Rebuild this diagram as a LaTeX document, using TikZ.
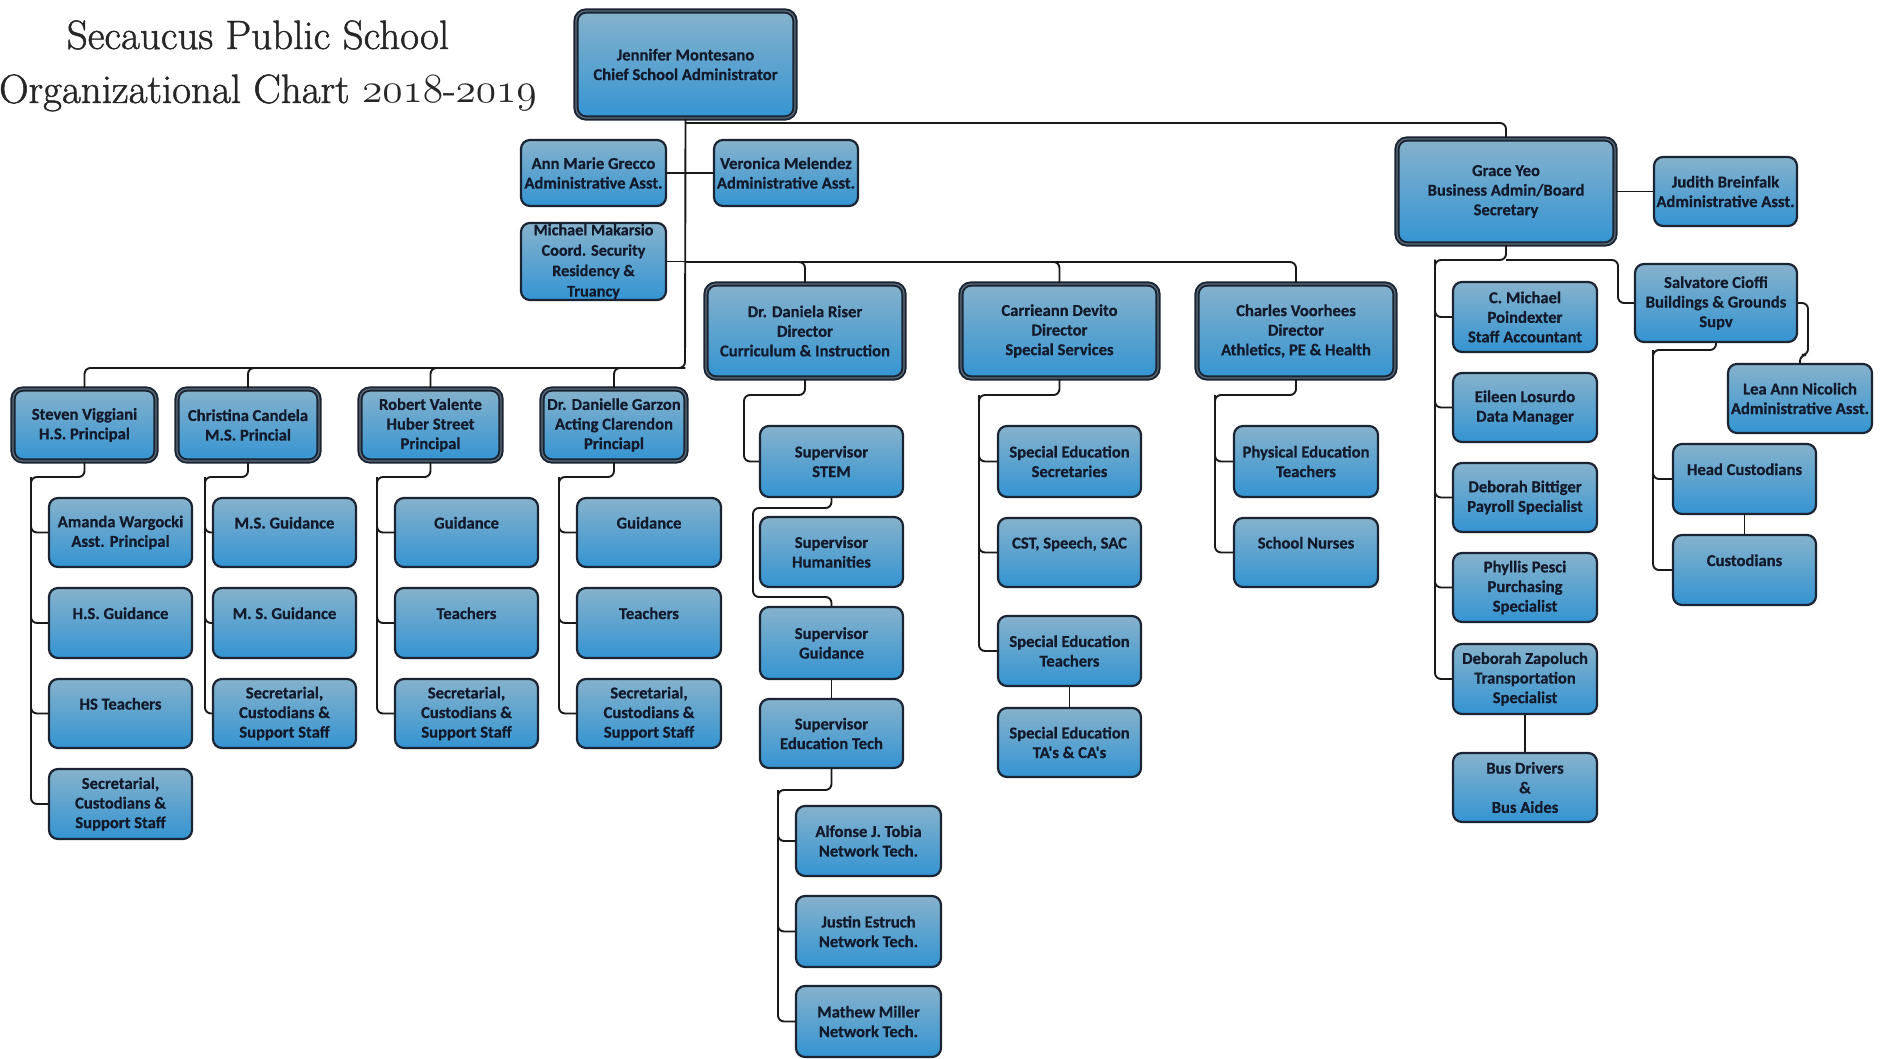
\documentclass[tikz,border=0pt]{standalone}
\usepackage{fontspec}
\newfontfamily\boxfont{Carlito}[BoldFeatures={FakeBold=0.6}]
\newfontfamily\titlefont{Latin Modern Roman}[FakeBold=1.2]
\definecolor{btop}{RGB}{134,178,204}
\definecolor{bbot}{RGB}{52,148,210}
\definecolor{bord}{RGB}{26,36,50}
\definecolor{dgray}{RGB}{95,110,125}
\definecolor{txt}{RGB}{18,26,44}
\newcommand\mkbox[7][]{%
  \pgfmathsetmacro\oCx{(#3+#5)/2}%
  \pgfmathsetmacro\oCy{(#4+#6)/2}%
  \pgfmathsetmacro\oW{(#5-#3)/2-1}%
  \pgfmathsetmacro\oH{(#6-#4)/2-1}%
  \node[obox,#1,minimum width=\oW pt,minimum height=\oH pt] (#2) at (\oCx,\oCy) {#7};}
\begin{document}
\begin{tikzpicture}[x=0.5pt,y=-0.5pt,
  obox/.style={rectangle, rounded corners=4.5pt, draw=bord, line width=1.1pt,
    top color=btop, bottom color=bbot, text=txt, align=center, inner sep=0.5pt,
    font=\boxfont\bfseries\fontsize{8.3}{9.8}\selectfont},
  thk/.style={line width=1pt, double=dgray, double distance=0.6pt, rounded corners=5pt},
  conn/.style={draw=black!90, line width=0.95pt, rounded corners=3pt},
  title/.style={font=\titlefont\fontsize{20.5}{24}\selectfont, text=black!85, inner sep=0pt}]
\useasboundingbox (0,0) rectangle (1889,1059);
\fill[white] (0,0) rectangle (1889,1059);
% title
\node[title, anchor=base] (ttl1) at (258,49) {Secaucus Public School};
\node[title, anchor=base] (ttl2) at (268,103) {Organizational Chart $\mathnormal{2018}$-$\mathnormal{2019}$};
% top
\mkbox[thk]{jen}{575}{10}{796}{119}{Jennifer Montesano\\Chief School Administrator}
\mkbox{ann}{520}{139}{667}{207}{Ann Marie Grecco\\Administrative Asst.}
\mkbox{ver}{713}{139}{859}{207}{Veronica Melendez\\Administrative Asst.}
\mkbox[font=\boxfont\bfseries\fontsize{8.1}{10.2}\selectfont]{mic}{520}{225}{667}{298}{Michael Makarsio\\Coord. Security\\Residency \&\\Truancy}
% directors
\mkbox[thk]{riser}{705}{283}{905}{379}{Dr. Daniela Riser\\Director\\Curriculum \& Instruction}
\mkbox[thk]{devito}{960}{283}{1159}{379}{Carrieann Devito\\Director\\Special Services}
\mkbox[thk]{voor}{1196}{283}{1396}{379}{Charles Voorhees\\Director\\Athletics, PE \& Health}
% principals
\mkbox[thk]{vig}{12}{388}{157}{462}{Steven Viggiani\\H.S. Principal}
\mkbox[thk]{cand}{176}{388}{320}{462}{Christina Candela\\M.S. Princial}
\mkbox[thk]{val}{359}{388}{502}{462}{Robert Valente\\Huber Street\\Principal}
\mkbox[thk]{gar}{541}{388}{687}{462}{Dr. Danielle Garzon\\Acting Clarendon\\Princiapl}
% column 1
\mkbox{ama}{48}{497}{193}{568}{Amanda Wargocki\\Asst. Principal}
\mkbox{hsg}{48}{587}{193}{659}{H.S. Guidance\\[0pt]\mbox{}}
\mkbox{hst}{48}{678}{193}{749}{HS Teachers\\[0pt]\mbox{}}
\mkbox{seca}{48}{768}{193}{840}{Secretarial,\\Custodians \&\\Support Staff}
% column 2
\mkbox{msga}{212}{497}{357}{568}{M.S. Guidance\\[0pt]\mbox{}}
\mkbox{msgb}{212}{587}{357}{659}{M. S. Guidance\\[0pt]\mbox{}}
\mkbox{secb}{212}{678}{357}{749}{Secretarial,\\Custodians \&\\Support Staff}
% column 3
\mkbox{gc}{394}{497}{539}{568}{Guidance\\[0pt]\mbox{}}
\mkbox{tc}{394}{587}{539}{659}{Teachers\\[0pt]\mbox{}}
\mkbox{secc}{394}{678}{539}{749}{Secretarial,\\Custodians \&\\Support Staff}
% column 4
\mkbox{gd}{576}{497}{722}{568}{Guidance\\[0pt]\mbox{}}
\mkbox{td}{576}{587}{722}{659}{Teachers\\[0pt]\mbox{}}
\mkbox{secd}{576}{678}{722}{749}{Secretarial,\\Custodians \&\\Support Staff}
% curriculum
\mkbox{stem}{759}{425}{904}{498}{Supervisor\\STEM}
\mkbox{hum}{759}{516}{904}{588}{Supervisor\\Humanities}
\mkbox{sg}{759}{606}{904}{680}{Supervisor\\Guidance}
\mkbox{set}{759}{698}{904}{769}{Supervisor\\Education Tech}
\mkbox{alf}{795}{805}{942}{877}{Alfonse J. Tobia\\Network Tech.}
\mkbox{jus}{795}{895}{942}{968}{Justin Estruch\\Network Tech.}
\mkbox{mat}{795}{985}{942}{1058}{Mathew Miller\\Network Tech.}
% special services
\mkbox{sps}{997}{425}{1142}{498}{Special Education\\Secretaries}
\mkbox{cst}{997}{517}{1142}{588}{CST, Speech, SAC\\[0pt]\mbox{}}
\mkbox{spt}{997}{615}{1142}{687}{Special Education\\Teachers}
\mkbox{sta}{997}{707}{1142}{778}{Special Education\\TA's \& CA's}
% athletics
\mkbox{pet}{1233}{425}{1379}{498}{Physical Education\\Teachers}
\mkbox{nur}{1233}{517}{1379}{588}{School Nurses\\[0pt]\mbox{}}
% business
\mkbox[thk]{grace}{1396}{138}{1616}{245}{Grace Yeo\\Business Admin/Board\\Secretary}
\mkbox{jud}{1653}{156}{1798}{227}{Judith Breinfalk\\Administrative Asst.}
\mkbox{poin}{1452}{281}{1598}{353}{C. Michael\\Poindexter\\Staff Accountant}
\mkbox{eil}{1452}{372}{1598}{443}{Eileen Losurdo\\Data Manager}
\mkbox{bit}{1452}{462}{1598}{533}{Deborah Bittiger\\Payroll Specialist}
\mkbox{phy}{1452}{552}{1598}{623}{Phyllis Pesci\\Purchasing\\Specialist}
\mkbox{zap}{1452}{643}{1598}{715}{Deborah Zapoluch\\Transportation\\Specialist}
\mkbox{bus}{1452}{752}{1598}{823}{Bus Drivers\\\&\\Bus Aides}
\mkbox{sal}{1634}{263}{1798}{343}{Salvatore Cioffi\\Buildings \& Grounds\\Supv}
\mkbox{lea}{1727}{363}{1873}{434}{Lea Ann Nicolich\\Administrative Asst.}
\mkbox{hc}{1672}{443}{1817}{515}{Head Custodians\\[0pt]\mbox{}}
\mkbox{cus}{1672}{534}{1817}{606}{Custodians\\[0pt]\mbox{}}
% ---------- connectors ----------
\coordinate (gbus) at (685,123);
\coordinate (dbus) at (685,262);
\coordinate (pbus) at (685,368);
\draw[conn] (jen.south) -- (pbus) -| (vig.north);
\draw[conn] (pbus) -| (cand.north);
\draw[conn] (pbus) -| (val.north);
\draw[conn] (pbus) -| (gar.north);
\draw[conn] (gbus) -| (grace.north);
\draw[conn] (ann.east) -- (ver.west);
\draw[conn] (mic.east) -- (mic.east -| jen.south);
\draw[conn] (dbus) -| (riser.north);
\draw[conn] (dbus) -| (devito.north);
\draw[conn] (dbus) -| (voor.north);
% principal columns
\coordinate (ta) at (31,477);
\coordinate (tb) at (205,477);
\coordinate (tcc) at (377,477);
\coordinate (tdd) at (559,477);
\draw[conn] (vig.south) |- (ta) |- (seca.west);
\draw[conn] (ta) |- (ama.west);
\draw[conn] (ta) |- (hsg.west);
\draw[conn] (ta) |- (hst.west);
\draw[conn] (cand.south) |- (tb) |- (secb.west);
\draw[conn] (tb) |- (msga.west);
\draw[conn] (tb) |- (msgb.west);
\draw[conn] (val.south) |- (tcc) |- (secc.west);
\draw[conn] (tcc) |- (gc.west);
\draw[conn] (tcc) |- (tc.west);
\draw[conn] (gar.south) |- (tdd) |- (secd.west);
\draw[conn] (tdd) |- (gd.west);
\draw[conn] (tdd) |- (td.west);
% curriculum
\coordinate (rt) at (744,395);
\draw[conn] (riser.south) |- (rt) |- (stem.west);
\draw[conn] (stem.south) |- (753,508) |- (831.5,597) -- (sg.north);
\draw[conn] (sg.south) -- (set.north);
\coordinate (nt) at (778,790);
\draw[conn] (set.south) |- (nt) |- (mat.west);
\draw[conn] (nt) |- (alf.west);
\draw[conn] (nt) |- (jus.west);
% special services
\coordinate (dt) at (979,395);
\draw[conn] (devito.south) |- (dt) |- (spt.west);
\draw[conn] (dt) |- (sps.west);
\draw[conn] (dt) |- (cst.west);
\draw[conn] (spt.south) -- (sta.north);
% athletics
\coordinate (vt) at (1215,395);
\draw[conn] (voor.south) |- (vt) |- (nur.west);
\draw[conn] (vt) |- (pet.west);
% business
\draw[conn] (grace.east) -- (jud.west);
\coordinate (gb) at (1506,260);
\coordinate (gt) at (1435,260);
\draw[conn] (grace.south) -- (gb) -- (gt) |- (zap.west);
\draw[conn] (gt) |- (poin.west);
\draw[conn] (gt) |- (eil.west);
\draw[conn] (gt) |- (bit.west);
\draw[conn] (gt) |- (phy.west);
\draw[conn] (zap.south) -- (bus.north);
\draw[conn] (gb) -- (1618,260) |- (sal.west);
\draw[conn] (sal.east) -- (1808,303) -- (1808,355) -| (lea.north);
\coordinate (st) at (1653,350);
\draw[conn] (sal.south) |- (st) |- (cus.west);
\draw[conn] (st) |- (hc.west);
\draw[conn] (hc.south) -- (cus.north);
\end{tikzpicture}
\end{document}
